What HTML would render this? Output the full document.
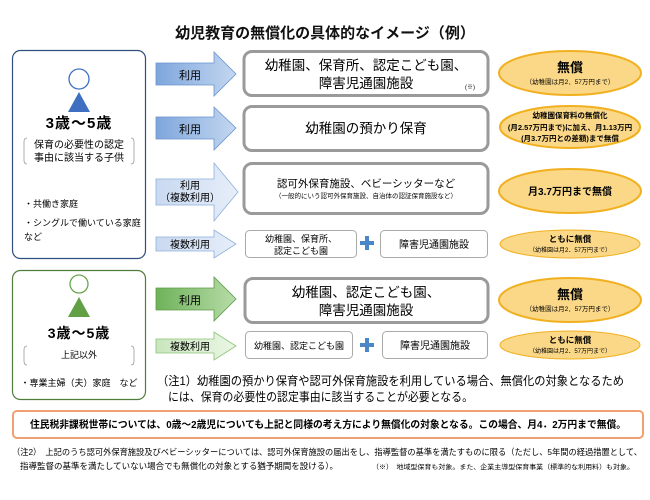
<!DOCTYPE html>
<html><head><meta charset="utf-8"><style>
body{margin:0;background:#fff;width:650px;height:500px;overflow:hidden}
svg{display:block;font-family:"Liberation Sans","Noto Sans CJK JP",sans-serif}
</style></head><body>
<svg width="650" height="500" viewBox="0 0 650 500">
<defs>
<linearGradient id="ba" x1="0" x2="1"><stop offset="0" stop-color="#7ea6dc"/><stop offset="1" stop-color="#c3d7f0"/></linearGradient>
<linearGradient id="la" x1="0" x2="1"><stop offset="0" stop-color="#c9d9f0"/><stop offset="1" stop-color="#e6eef9"/></linearGradient>
<linearGradient id="ga" x1="0" x2="1"><stop offset="0" stop-color="#6fb25a"/><stop offset="1" stop-color="#b7dca8"/></linearGradient>
<linearGradient id="lga" x1="0" x2="1"><stop offset="0" stop-color="#c9e6bd"/><stop offset="1" stop-color="#eaf6e4"/></linearGradient>
</defs>
<text x="325" y="38" text-anchor="middle" font-size="15" font-weight="bold" fill="#111">幼児教育の無償化の具体的なイメージ（例）</text>

<rect x="12.5" y="50.5" width="133" height="208" rx="8" fill="#fff" stroke="#2f4f80" stroke-width="1.2"/>
<circle cx="79" cy="79" r="10" fill="#fff" stroke="#3e6fc0" stroke-width="1.3"/>
<polygon points="79,92 68,112 90,112" fill="#3e6fc0"/>
<text x="79" y="128" text-anchor="middle" font-size="15" font-weight="bold" letter-spacing="1">3歳～5歳</text>
<text x="79" y="148" text-anchor="middle" font-size="10">保育の必要性の認定</text>
<text x="79" y="161" text-anchor="middle" font-size="10">事由に該当する子供</text>
<path d="M27,138 q-3,0 -3,4 v18 q0,4 3,4 M131,138 q3,0 3,4 v18 q0,4 -3,4" fill="none" stroke="#999" stroke-width="0.8"/>
<text x="24" y="207" font-size="9">・共働き家庭</text>
<text x="24" y="226" font-size="9">・シングルで働いている家庭</text>
<text x="24" y="240" font-size="9">など</text>

<polygon points="156,63 214,63 214,52 236,74 214,96 214,85 156,85" fill="url(#ba)" stroke="#6a94cf" stroke-width="0.8"/>
<text x="190" y="79" text-anchor="middle" font-size="11">利用</text>
<rect x="244" y="51.5" width="244" height="44" rx="8" fill="#fff" stroke="#9a9a9a" stroke-width="3"/>
<text x="366" y="70" text-anchor="middle" font-size="13.5">幼稚園、保育所、認定こども園、</text>
<text x="366" y="88" text-anchor="middle" font-size="13.5">障害児通園施設</text>
<text x="470" y="89" text-anchor="middle" font-size="6">(※)</text>
<ellipse cx="570" cy="73" rx="71" ry="22" fill="#fbd887" stroke="#f0b020" stroke-width="2"/>
<text x="570" y="72" text-anchor="middle" font-size="13" font-weight="bold">無償</text>
<text x="570" y="84" text-anchor="middle" font-size="6.5">（幼稚園は月2．57万円まで）</text>

<polygon points="156,117 214,117 214,107 236,128 214,150 214,139 156,139" fill="url(#ba)" stroke="#6a94cf" stroke-width="0.8"/>
<text x="190" y="133" text-anchor="middle" font-size="11">利用</text>
<rect x="244" y="106.5" width="244" height="44" rx="8" fill="#fff" stroke="#9a9a9a" stroke-width="3"/>
<text x="366" y="133" text-anchor="middle" font-size="13.5">幼稚園の預かり保育</text>
<ellipse cx="570" cy="127" rx="70" ry="21" fill="#fbd887" stroke="#f0b020" stroke-width="2"/>
<text x="570" y="118" text-anchor="middle" font-size="7.5" font-weight="bold">幼稚園保育料の無償化</text>
<text x="570" y="130" text-anchor="middle" font-size="7.5" font-weight="bold">(月2.57万円まで)に加え、月1.13万円</text>
<text x="570" y="141" text-anchor="middle" font-size="7.5" font-weight="bold">(月3.7万円との差額)まで無償</text>

<polygon points="156,179 214,179 214,163 238,192 214,221 214,205 156,205" fill="url(#la)" stroke="#8fb0dc" stroke-width="0.8"/>
<text x="190" y="189" text-anchor="middle" font-size="10">利用</text>
<text x="190" y="201" text-anchor="middle" font-size="10">（複数利用）</text>
<rect x="244" y="163.5" width="244" height="50" rx="8" fill="#fff" stroke="#9a9a9a" stroke-width="3"/>
<text x="366" y="187" text-anchor="middle" font-size="10.5">認可外保育施設、ベビーシッターなど</text>
<text x="366" y="198" text-anchor="middle" font-size="6.5">（一般的にいう認可外保育施設、自治体の認証保育施設など）</text>
<ellipse cx="570" cy="191" rx="71" ry="22" fill="#fbd887" stroke="#f0b020" stroke-width="2"/>
<text x="570" y="195" text-anchor="middle" font-size="10" font-weight="bold">月3.7万円まで無償</text>

<polygon points="156,237 214,237 214,230 236,244 214,258 214,251 156,251" fill="url(#la)" stroke="#8fb0dc" stroke-width="0.8"/>
<text x="190" y="248" text-anchor="middle" font-size="10">複数利用</text>
<rect x="245.5" y="230.5" width="111" height="27" rx="4" fill="#fff" stroke="#aaa"/>
<text x="301" y="242" text-anchor="middle" font-size="9">幼稚園、保育所、</text>
<text x="301" y="254" text-anchor="middle" font-size="9">認定こども園</text>
<path d="M367,236 v14 M360,243 h14" stroke="#4a86c8" stroke-width="4"/>
<rect x="380.5" y="230.5" width="107" height="27" rx="4" fill="#fff" stroke="#aaa"/>
<text x="434" y="248" text-anchor="middle" font-size="10">障害児通園施設</text>
<ellipse cx="570" cy="244" rx="70" ry="14" fill="#fbd887" stroke="#f0b020" stroke-width="1"/>
<text x="570" y="242" text-anchor="middle" font-size="8.5" font-weight="bold">ともに無償</text>
<text x="570" y="252" text-anchor="middle" font-size="6">（幼稚園は月2．57万円まで）</text>

<rect x="12.5" y="270.5" width="133" height="129" rx="8" fill="#fff" stroke="#4f7d3a" stroke-width="1.2"/>
<circle cx="79" cy="284" r="9" fill="#fff" stroke="#6aa84f" stroke-width="1.3"/>
<polygon points="79,297 68,317 90,317" fill="#62a046"/>
<text x="79" y="338" text-anchor="middle" font-size="14" font-weight="bold" letter-spacing="1">3歳～5歳</text>
<text x="79" y="358" text-anchor="middle" font-size="9">上記以外</text>
<path d="M27,346 q-3,0 -3,4 v11 q0,4 3,4 M131,346 q3,0 3,4 v11 q0,4 -3,4" fill="none" stroke="#999" stroke-width="0.8"/>
<text x="79" y="386" text-anchor="middle" font-size="9">・専業主婦（夫）家庭　など</text>

<polygon points="156,288 214,288 214,277 236,299 214,321 214,310 156,310" fill="url(#ga)" stroke="#5c9a48" stroke-width="0.8"/>
<text x="190" y="304" text-anchor="middle" font-size="11">利用</text>
<rect x="245" y="278.5" width="243" height="44" rx="8" fill="#fff" stroke="#9a9a9a" stroke-width="3"/>
<text x="366" y="297" text-anchor="middle" font-size="13.5">幼稚園、認定こども園、</text>
<text x="366" y="315" text-anchor="middle" font-size="13.5">障害児通園施設</text>
<ellipse cx="570" cy="300" rx="71" ry="22" fill="#fbd887" stroke="#f0b020" stroke-width="2"/>
<text x="570" y="299" text-anchor="middle" font-size="13" font-weight="bold">無償</text>
<text x="570" y="311" text-anchor="middle" font-size="6.5">（幼稚園は月2．57万円まで）</text>

<polygon points="156,339 214,339 214,332 236,346 214,360 214,353 156,353" fill="url(#lga)" stroke="#8cc27a" stroke-width="0.8"/>
<text x="190" y="350" text-anchor="middle" font-size="10">複数利用</text>
<rect x="245.5" y="331.5" width="107" height="27" rx="4" fill="#fff" stroke="#aaa"/>
<text x="299" y="349" text-anchor="middle" font-size="9">幼稚園、認定こども園</text>
<path d="M367,338 v14 M360,345 h14" stroke="#4a86c8" stroke-width="4"/>
<rect x="382.5" y="331.5" width="105" height="27" rx="4" fill="#fff" stroke="#aaa"/>
<text x="435" y="349" text-anchor="middle" font-size="10">障害児通園施設</text>
<ellipse cx="570" cy="345" rx="70" ry="14" fill="#fbd887" stroke="#f0b020" stroke-width="1"/>
<text x="570" y="343" text-anchor="middle" font-size="8.5" font-weight="bold">ともに無償</text>
<text x="570" y="353" text-anchor="middle" font-size="6">（幼稚園は月2．57万円まで）</text>

<text x="157" y="385" font-size="12" textLength="467" lengthAdjust="spacingAndGlyphs">（注1）幼稚園の預かり保育や認可外保育施設を利用している場合、無償化の対象となるため</text>
<text x="168" y="401" font-size="12" textLength="305" lengthAdjust="spacingAndGlyphs">には、保育の必要性の認定事由に該当することが必要となる。</text>

<rect x="13" y="411" width="630" height="27" rx="4" fill="#fff" stroke="#f0a070" stroke-width="2"/>
<text x="30" y="428" font-size="10" font-weight="bold" textLength="596" lengthAdjust="spacingAndGlyphs">住民税非課税世帯については、0歳～2歳児についても上記と同様の考え方により無償化の対象となる。この場合、月4．2万円まで無償。</text>

<text x="12" y="455" font-size="8.5" textLength="630" lengthAdjust="spacingAndGlyphs">（注2）　上記のうち認可外保育施設及びベビーシッターについては、認可外保育施設の届出をし、指導監督の基準を満たすものに限る（ただし、5年間の経過措置として、</text>
<text x="20" y="469" font-size="8.5" textLength="318" lengthAdjust="spacingAndGlyphs">指導監督の基準を満たしていない場合でも無償化の対象とする猶予期間を設ける）。</text>
<text x="372" y="469" font-size="6.5" textLength="262" lengthAdjust="spacingAndGlyphs">（※）　地域型保育も対象。また、企業主導型保育事業（標準的な利用料）も対象。</text>
</svg>
</body></html>
